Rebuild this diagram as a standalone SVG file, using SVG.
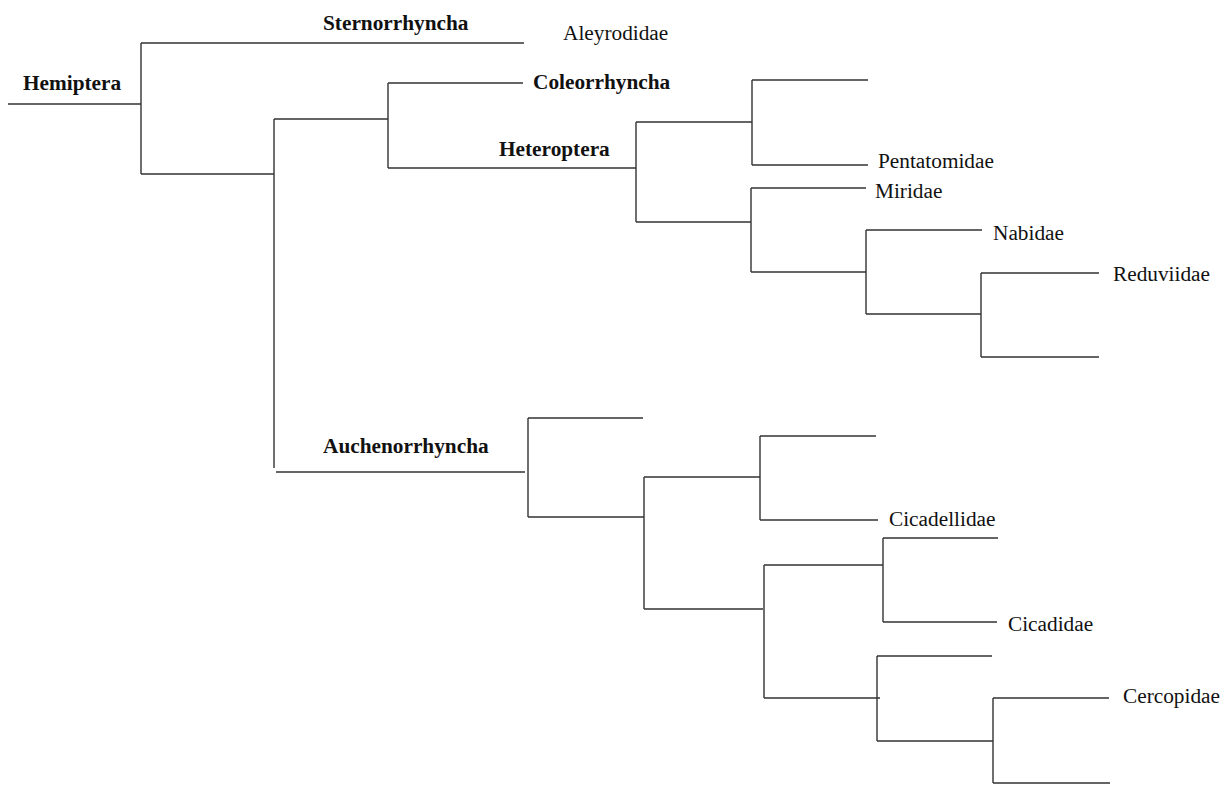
<svg xmlns="http://www.w3.org/2000/svg" width="1227" height="785" viewBox="0 0 1227 785">
<style>
.l{stroke:#333;stroke-width:1.4;fill:none}
.t{font-family:"Liberation Serif","Times New Roman",serif;font-size:21.3px;fill:#111}
.b{font-weight:bold}
</style>
<rect width="1227" height="785" fill="#fff"/>
<g id="connectors" class="l">
<path d="M8,104H141M141,43V174M141,43H524M141,174H274"/>
<path d="M274,119V468M274,119H388M276,472H525"/>
<path d="M388,83V168M388,83H523M388,168H636"/>
<path d="M636,122V222M636,122H752M752,80V165M752,80H868M752,165H868"/>
<path d="M636,222H751M751,188V272M751,188H866M751,272H866"/>
<path d="M866,230V314M866,230H982M866,314H981M981,273V357M981,273H1099M981,357H1099"/>
<path d="M528,418V517M528,418H643M528,517H644"/>
<path d="M644,477V609M644,477H760M760,436V520M760,436H876M760,520H878"/>
<path d="M644,609H763M764,565V698M764,565H883M883,538V622M883,538H998M883,622H997"/>
<path d="M764,698H880M877,656V741M877,656H992M877,741H993M993,698V783M993,698H1109M993,783H1110"/>
</g>
<g id="hemiptera"><text class="t b" x="23" y="90">Hemiptera</text></g>
<g id="sternorrhyncha"><text class="t b" x="323" y="30">Sternorrhyncha</text></g>
<g id="aleyrodidae"><text class="t" x="563" y="40">Aleyrodidae</text></g>
<g id="coleorrhyncha"><text class="t b" x="533" y="89">Coleorrhyncha</text></g>
<g id="heteroptera"><text class="t b" x="499" y="156">Heteroptera</text></g>
<g id="pentatomidae"><text class="t" x="878" y="168">Pentatomidae</text></g>
<g id="miridae"><text class="t" x="875" y="198">Miridae</text></g>
<g id="nabidae"><text class="t" x="993" y="240">Nabidae</text></g>
<g id="reduviidae"><text class="t" x="1113" y="281">Reduviidae</text></g>
<g id="auchenorrhyncha"><text class="t b" x="323" y="453">Auchenorrhyncha</text></g>
<g id="cicadellidae"><text class="t" x="889" y="526">Cicadellidae</text></g>
<g id="cicadidae"><text class="t" x="1008" y="631">Cicadidae</text></g>
<g id="cercopidae"><text class="t" x="1123" y="703">Cercopidae</text></g>
</svg>
